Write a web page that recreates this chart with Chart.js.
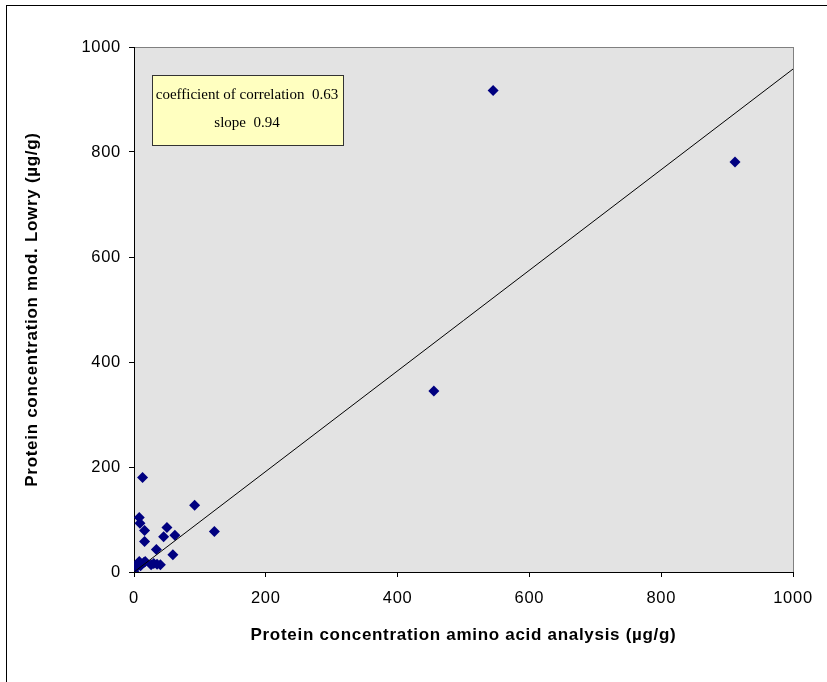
<!DOCTYPE html>
<html>
<head>
<meta charset="utf-8">
<script src="https://cdn.jsdelivr.net/npm/chart.js@4.4.0/dist/chart.umd.min.js"></script>
<style>
  body { margin: 0; background: #fff; }
  canvas { display: block; }
</style>
</head>
<body>
<canvas id="proteinChart" width="827" height="682"></canvas>
<script>
// amino acid analysis (x) vs mod. Lowry (y), ug/g
var aminoAcid = [0, 3, 5, 8, 10, 15, 17, 26, 30, 35, 40, 13, 92, 8, 9, 16, 50, 45, 62, 122, 16, 34, 59, 455, 545, 912];
var lowry =     [0, 8, 14, 20, 12, 18, 20, 14, 16, 15, 14, 180, 127, 104, 93, 79, 85, 67, 70, 77, 58, 43, 33, 345, 917, 781];

// regression line end points
var fitX = [0, 1000];
var fitY = [0, 958];

var boxLines = ['coefficient of correlation  0.63', 'slope  0.94'];

var points = [];
for (let i = 0; i < aminoAcid.length; i++) {
    points.push({ x: aminoAcid[i], y: lowry[i] });
}
var fitLine = [];
for (let i = 0; i < fitX.length; i++) {
    fitLine.push({ x: fitX[i], y: fitY[i] });
}

var frame = {
    id: 'frame',
    beforeDraw(chart) {
        let c = chart.ctx;
        let a = chart.chartArea;
        c.save();
        c.fillStyle = '#fff';
        c.fillRect(0, 0, chart.width, chart.height);
        c.strokeStyle = '#000';
        c.lineWidth = 1;
        c.strokeRect(6.5, 5.5, chart.width + 10, chart.height + 10);
        c.fillStyle = '#e3e3e3';
        c.fillRect(a.left, a.top, a.right - a.left, a.bottom - a.top);
        c.strokeStyle = '#808080';
        c.strokeRect(a.left + 0.5, a.top + 0.5, a.right - a.left, a.bottom - a.top);
        c.restore();
        // axis text in the original is slightly spaced out
        c.letterSpacing = '0.7px';
    },
    beforeDatasetsDraw(chart) {
        chart.ctx.letterSpacing = '0px';
    },
    afterDraw(chart) {
        let c = chart.ctx;
        c.save();
        c.fillStyle = '#ffffc0';
        c.fillRect(152, 75, 191, 70);
        c.strokeStyle = '#333';
        c.lineWidth = 1;
        c.strokeRect(152.5, 75.5, 191, 70);
        c.fillStyle = '#000';
        c.font = '15px "Liberation Serif"';
        c.textAlign = 'center';
        c.textBaseline = 'middle';
        c.fillText(boxLines[0], 247, 95);
        c.fillText(boxLines[1], 247, 123);
        c.restore();
    }
};

var tickFont = { family: 'Liberation Sans', size: 16.5 };
var titleFont = { family: 'Liberation Sans', size: 17, weight: 'bold' };

var ctx = document.getElementById('proteinChart').getContext('2d');

var myChart = new Chart(ctx, {
    type: 'scatter',
    data: {
        datasets: [{
            type: 'line',
            data: fitLine,
            borderColor: '#000',
            borderWidth: 1,
            pointRadius: 0,
            fill: false
        }, {
            data: points,
            pointStyle: 'rectRot',
            pointRadius: 5.5,
            pointHoverRadius: 5.5,
            backgroundColor: '#000080',
            borderColor: '#000080',
            borderWidth: 0
        }]
    },
    options: {
        responsive: false,
        animation: false,
        layout: { padding: { top: 47, right: 34, left: 0, bottom: 0 } },
        plugins: {
            legend: { display: false },
            tooltip: { enabled: false }
        },
        scales: {
            x: {
                type: 'linear',
                min: 0,
                max: 1000,
                afterFit: (scale) => { scale.height = 110; },
                border: { color: '#000', width: 1 },
                grid: { drawOnChartArea: false, tickLength: 5, color: '#000' },
                ticks: { stepSize: 200, color: '#000', font: tickFont, padding: 12, maxRotation: 0, callback: v => v },
                title: {
                    display: true,
                    text: 'Protein concentration amino acid analysis (µg/g)',
                    color: '#000',
                    font: titleFont,
                    padding: { top: 0, bottom: 36 }
                }
            },
            y: {
                type: 'linear',
                min: 0,
                max: 1000,
                afterFit: (scale) => { scale.width = 134; },
                border: { color: '#000', width: 1 },
                grid: { drawOnChartArea: false, tickLength: 5, color: '#000' },
                ticks: { stepSize: 200, color: '#000', font: tickFont, padding: 8, callback: v => v },
                title: {
                    display: true,
                    text: 'Protein concentration mod. Lowry (µg/g)',
                    color: '#000',
                    font: titleFont,
                    padding: { top: 22, bottom: 0 }
                }
            }
        }
    },
    plugins: [frame]
});
</script>
</body>
</html>
